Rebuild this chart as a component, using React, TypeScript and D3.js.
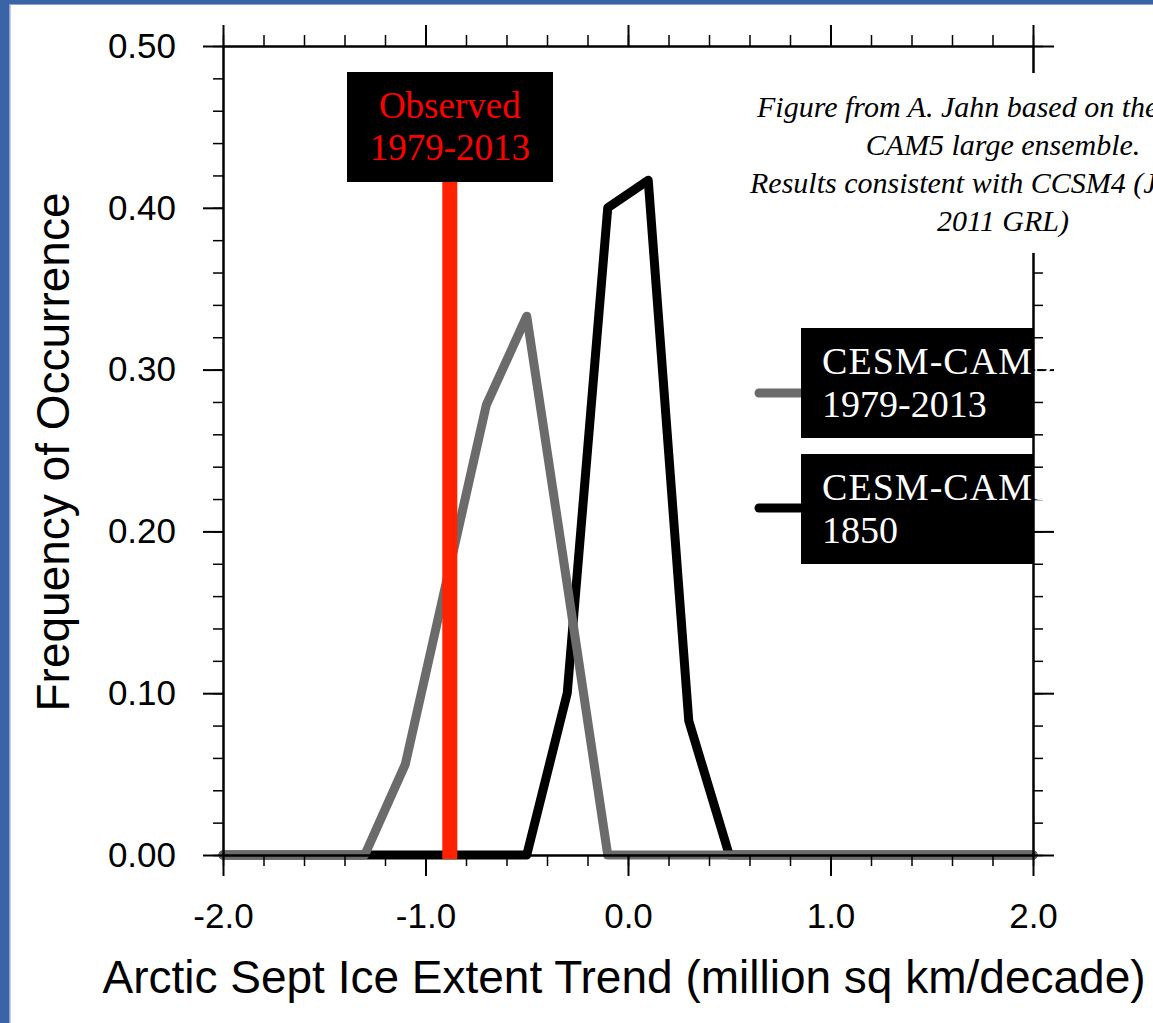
import React, { useEffect, useRef } from "react";
import * as d3 from "d3";

// histogram bin centres of the Sept ice extent trend (million sq km/decade)
const trendBins = [-2.0, -1.9, -1.7, -1.5, -1.3, -1.1, -0.9, -0.7, -0.5, -0.3, -0.1, 0.1, 0.3, 0.5, 0.7, 0.9, 1.1, 1.3, 1.5, 1.7, 1.9, 2.0];
const ensemble1979 = [0, 0, 0, 0, 0, 0.056, 0.167, 0.278, 0.333, 0.167, 0, 0, 0, 0, 0, 0, 0, 0, 0, 0, 0, 0];
const control1850 = [0, 0, 0, 0, 0, 0, 0, 0, 0, 0.1, 0.4, 0.417, 0.083, 0, 0, 0, 0, 0, 0, 0, 0, 0];
const observedTrend = -0.88;

const xTickValues = [-2, -1, 0, 1, 2];
const xTickLabels = ["-2.0", "-1.0", "0.0", "1.0", "2.0"];
const yTickValues = [0, 0.1, 0.2, 0.3, 0.4, 0.5];
const yTickLabels = ["0.00", "0.10", "0.20", "0.30", "0.40", "0.50"];

const legendLabels = [["CESM-CAM5", "1979-2013"], ["CESM-CAM5", "1850"]];
const observedLabel = ["Observed", "1979-2013"];
const noteLines = ["Figure from A. Jahn based on the", "CAM5 large ensemble.", "Results consistent with CCSM4 (J", "2011 GRL)"];

const SANS = "'Liberation Sans', Arial, Helvetica, sans-serif";
const SERIF = "'Liberation Serif', 'Times New Roman', serif";

export default function App() {
    const ref = useRef<SVGSVGElement>(null);

    useEffect(() => {
        const width = 1153, height = 1023;
        const left = 223, right = 1033, top = 46, bottom = 855;

        const svg = d3.select(ref.current);
        svg.selectAll("*").remove();

        const x = d3.scaleLinear().domain([-2, 2]).range([left, right]);
        const y = d3.scaleLinear().domain([0, 0.5]).range([bottom, top]);

        // page frame
        svg.append("rect").attr("width", width).attr("height", height).attr("fill", "#fff");
        svg.append("rect").attr("width", 9).attr("height", height).attr("fill", "#3a64a6");
        svg.append("rect").attr("x", 9).attr("width", 1.5).attr("height", height).attr("fill", "#88a4d4");
        svg.append("rect").attr("width", width).attr("height", 4).attr("fill", "#3a64a6");
        svg.append("rect").attr("x", 9).attr("y", 4).attr("width", width).attr("height", 1).attr("fill", "#88a4d4");

        const line = d3.line<number>()
            .x((d, i) => x(trendBins[i]))
            .y((d) => y(d));

        const series = [
            { values: control1850, color: "#000000" },
            { values: ensemble1979, color: "#6b6b6b" },
        ];
        series.forEach((s) => {
            svg.append("path")
                .datum(s.values)
                .attr("d", line)
                .attr("fill", "none")
                .attr("stroke", s.color)
                .attr("stroke-width", 9)
                .attr("stroke-linejoin", "round")
                .attr("stroke-linecap", "round");
        });

        // axes: major + minor ticks on all four sides, pointing outward
        const minorX = d3.range(-2, 2.001, 0.2).map((v) => +v.toFixed(1));
        const minorY = d3.range(0, 0.501, 0.02).map((v) => +v.toFixed(2));

        const addAxis = (axis: any, transform: string, strokeW: number) => {
            const g = svg.append("g").attr("transform", transform).call(axis);
            g.selectAll("line").attr("stroke", "#000").attr("stroke-width", strokeW);
            g.select(".domain").attr("stroke", "#000").attr("stroke-width", 2);
            g.selectAll("text").remove();
            return g;
        };

        addAxis(d3.axisBottom(x).tickValues(minorX).tickSize(11).tickSizeOuter(0), `translate(0,${bottom})`, 1.5);
        addAxis(d3.axisTop(x).tickValues(minorX).tickSize(11).tickSizeOuter(0), `translate(0,${top})`, 1.5);
        addAxis(d3.axisLeft(y).tickValues(minorY).tickSize(10).tickSizeOuter(0), `translate(${left},0)`, 1.5);
        addAxis(d3.axisRight(y).tickValues(minorY).tickSize(10).tickSizeOuter(0), `translate(${right},0)`, 1.5);
        addAxis(d3.axisTop(x).tickValues(xTickValues).tickSize(21).tickSizeOuter(0), `translate(0,${top})`, 2);
        addAxis(d3.axisRight(y).tickValues(yTickValues).tickSize(21).tickSizeOuter(0), `translate(${right},0)`, 2);

        const xAxis = svg.append("g")
            .attr("transform", `translate(0,${bottom})`)
            .call(d3.axisBottom(x).tickValues(xTickValues).tickSize(21).tickSizeOuter(0).tickPadding(27)
                .tickFormat((d, i) => xTickLabels[i]));
        const yAxis = svg.append("g")
            .attr("transform", `translate(${left},0)`)
            .call(d3.axisLeft(y).tickValues(yTickValues).tickSize(20).tickSizeOuter(0).tickPadding(27)
                .tickFormat((d, i) => yTickLabels[i]));
        [xAxis, yAxis].forEach((g) => {
            g.selectAll("line").attr("stroke", "#000").attr("stroke-width", 2);
            g.select(".domain").attr("stroke", "#000").attr("stroke-width", 2);
            g.selectAll("text").attr("font-family", SANS).attr("font-size", 35).attr("fill", "#000");
        });

        // axis titles
        svg.append("text")
            .attr("x", 624).attr("y", 993)
            .attr("text-anchor", "middle")
            .attr("font-family", SANS).attr("font-size", 46)
            .text("Arctic Sept Ice Extent Trend (million sq km/decade)");
        svg.append("text")
            .attr("transform", "translate(69,452) rotate(-90)")
            .attr("text-anchor", "middle")
            .attr("font-family", SANS).attr("font-size", 46)
            .text("Frequency of Occurrence");

        // observed trend marker
        const obsBox = { x: 347, y: 72, w: 206, h: 110 };
        svg.append("line")
            .attr("x1", x(observedTrend)).attr("x2", x(observedTrend))
            .attr("y1", obsBox.y + obsBox.h).attr("y2", y(0) + 4)
            .attr("stroke", "#ff2200").attr("stroke-width", 15);
        svg.append("rect")
            .attr("x", obsBox.x).attr("y", obsBox.y).attr("width", obsBox.w).attr("height", obsBox.h)
            .attr("fill", "#000");
        observedLabel.forEach((t, i) => {
            svg.append("text")
                .attr("x", x(observedTrend)).attr("y", 118 + i * 42)
                .attr("text-anchor", "middle")
                .attr("font-family", SERIF).attr("font-size", 37)
                .attr("fill", "#ff0000")
                .text(t);
        });

        // note, on a white ground that hides part of the right axis
        svg.append("rect").attr("x", 745).attr("y", 73).attr("width", 420).attr("height", 180).attr("fill", "#fff");
        noteLines.forEach((t, i) => {
            const txt = svg.append("text")
                .attr("y", 117 + i * 38)
                .attr("font-family", SERIF).attr("font-style", "italic").attr("font-size", 30)
                .attr("fill", "#000")
                .text(t);
            if (i % 2 === 0) txt.attr("x", i === 0 ? 757 : 750);
            else txt.attr("x", 1003).attr("text-anchor", "middle");
        });

        // legend
        const legendColors = ["#6b6b6b", "#000000"];
        const legendTop = [328, 454];
        legendLabels.forEach((lines, i) => {
            const yb = legendTop[i];
            svg.append("line")
                .attr("x1", 759).attr("x2", 805)
                .attr("y1", yb + (i === 0 ? 65 : 54)).attr("y2", yb + (i === 0 ? 65 : 54))
                .attr("stroke", legendColors[i]).attr("stroke-width", 9).attr("stroke-linecap", "round");
            svg.append("rect")
                .attr("x", 801).attr("y", yb).attr("width", right - 801).attr("height", 110)
                .attr("fill", "#000");
            lines.forEach((t, j) => {
                const txt = svg.append("text")
                    .attr("x", 822).attr("y", yb + 46 + j * 43)
                    .attr("font-family", SERIF).attr("font-size", 38)
                    .attr("fill", "#fff")
                    .text(t);
                if (j === 0) txt.attr("textLength", 230).attr("lengthAdjust", "spacing");
            });
        });
    }, []);

    return (
        <svg
            ref={ref}
            width={1153}
            height={1023}
            style={{ position: "absolute", left: 0, top: 0, display: "block" }}
        />
    );
}
